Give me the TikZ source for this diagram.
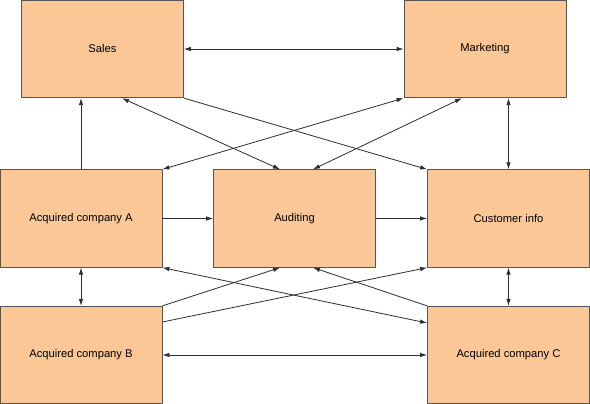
\documentclass[tikz,border=0pt]{standalone}
\usepackage{fontspec}
\setmainfont{Liberation Sans}
\usetikzlibrary{arrows.meta}
\definecolor{boxfill}{RGB}{251,199,150}
\definecolor{boxline}{RGB}{85,85,85}
\definecolor{linkline}{RGB}{45,45,45}
\begin{document}
\begin{tikzpicture} [x=1pt, y=1pt, font=\fontsize{11.2}{13}\selectfont, line join=round, >={Latex[length=7pt,width=4.5pt]}]
		\tikzset{unit/.style={draw=boxline, fill=boxfill, line width=0.8pt, minimum width=162pt, minimum height=97.5pt, inner sep=0pt}}
		\tikzset{link/.style={draw=linkline, line width=0.8pt}}
		\useasboundingbox (0,0) rectangle (590,404);
		\node[unit] (sales) at (102.5,355) {Sales};
		\node[unit] (mkt) at (485,355) {Marketing};
		\node[unit] (compa) at (81,185.5) {Acquired company A};
		\node[unit] (audit) at (294.5,185.5) {Auditing};
		\node[unit] (cust) at (508.5,185.5) {Customer info};
		\node[unit] (compb) at (81,49) {Acquired company B};
		\node[unit] (compc) at (508.5,49) {Acquired company C};
		% top row
		\draw[link,<->] (sales.east)--(mkt.west);
		\draw[link,->] (compa.north)--(compa.north |- sales.south);
		\draw[link,<->] ([xshift=19.5pt]sales.south)--([xshift=-14.5pt]audit.north);
		\draw[link,->] (sales.south east)--(cust.north west);
		\draw[link,<->] (compa.north east)--(mkt.south west);
		\draw[link,<->] ([xshift=-23pt]mkt.south)--([xshift=18.5pt]audit.north);
		\draw[link,<->] (cust.north |- mkt.south)--(cust.north);
		% middle row
		\draw[link,->] (compa.east)--(audit.west);
		\draw[link,->] (audit.east)--(cust.west);
		% bottom row
		\draw[link,<->] (compa.south)--(compb.north);
		\draw[link,<->] (cust.south)--(compc.north);
		\draw[link,<->] (compb.east)--(compc.west);
		\draw[link,->] (compb.north east)--([xshift=-14.5pt]audit.south);
		\draw[link,->] ([yshift=33pt]compb.east)--(cust.south west);
		\draw[link,<->] (compa.south east)--([yshift=32pt]compc.west);
		\draw[link,->] (compc.north west)--([xshift=18.5pt]audit.south);
\end{tikzpicture}
\end{document}
